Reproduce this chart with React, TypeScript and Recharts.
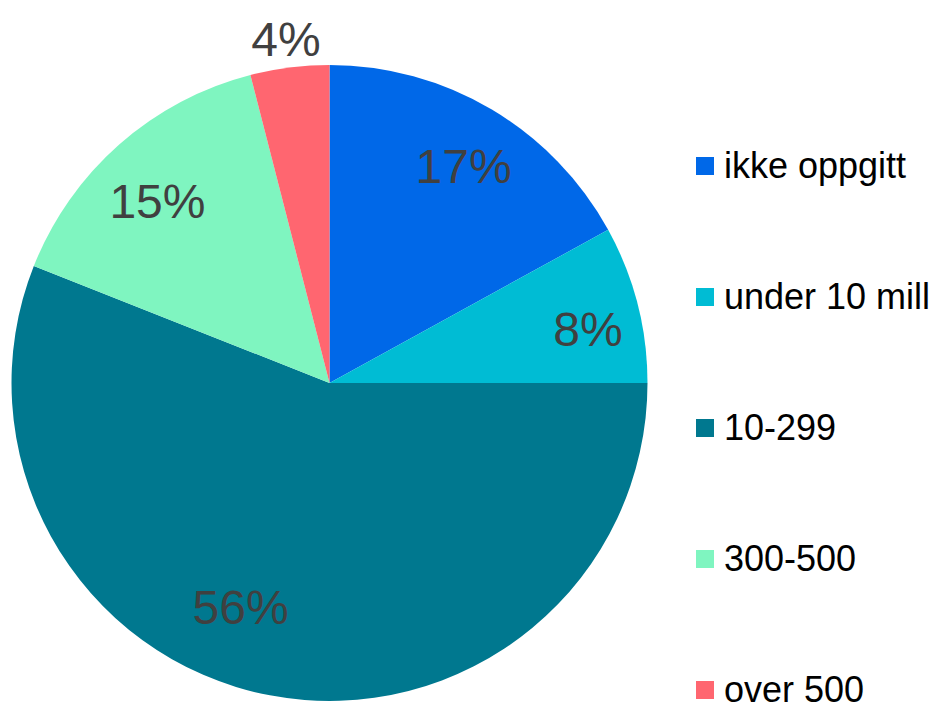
import { PieChart, Pie, Cell, Legend } from "recharts";

const CATEGORIES = ["ikke oppgitt", "under 10 mill", "10-299", "300-500", "over 500"];
const SHARES = [17, 8, 56, 15, 4];

const COLORS = ["#0068e8", "#00bcd4", "#00788f", "#7ff5c0", "#ff6670"];
// label distance as fraction of radius, plus a small clockwise angle nudge (deg)
const LABEL_RADIUS = [0.8, 0.83, 0.76, 0.786, 1.09];
const LABEL_NUDGE = [1.2, 2.8, 10.8, -2.1, 0];

const RAD = Math.PI / 180;

const chartData = CATEGORIES.map((name, i) => ({ name, value: SHARES[i] }));

function renderLabel(props: any) {
  const { cx, cy, midAngle, outerRadius, index, value } = props;
  const r = outerRadius * LABEL_RADIUS[index];
  const a = (midAngle - LABEL_NUDGE[index]) * RAD;
  const x = cx + r * Math.cos(-a);
  const y = cy + r * Math.sin(-a);
  return (
    <text
      x={x}
      y={y}
      fill="#404040"
      fontSize={48}
      fontFamily="Liberation Sans, Arial, sans-serif"
      textAnchor="middle"
      dominantBaseline="central"
    >
      {value}%
    </text>
  );
}

function LegendBox() {
  return (
    <div style={{ fontFamily: "Liberation Sans, Arial, sans-serif" }}>
      {CATEGORIES.map((name, i) => (
        <div
          key={name}
          style={{ display: "flex", alignItems: "center", height: 131 }}
        >
          <span
            style={{
              width: 18,
              height: 18,
              background: COLORS[i],
              display: "inline-block",
              marginRight: 10,
            }}
          />
          <span style={{ fontSize: 36, color: "#000", whiteSpace: "nowrap" }}>{name}</span>
        </div>
      ))}
    </div>
  );
}

export default function App() {
  return (
    <div style={{ position: "absolute", left: 0, top: 0, background: "#fff" }}>
      <PieChart width={933} height={702} margin={{ top: 0, right: 0, bottom: 0, left: 0 }}>
        <Pie
          data={chartData}
          dataKey="value"
          nameKey="name"
          cx={329.5}
          cy={383}
          outerRadius={318}
          startAngle={90}
          endAngle={-270}
          stroke="none"
          label={renderLabel}
          labelLine={false}
          isAnimationActive={false}
        >
          {chartData.map((_, i) => (
            <Cell key={i} fill={COLORS[i]} />
          ))}
        </Pie>
        <Legend
          content={() => <LegendBox />}
          wrapperStyle={{ position: "absolute", left: 696, top: 100, width: 237 }}
        />
      </PieChart>
    </div>
  );
}
